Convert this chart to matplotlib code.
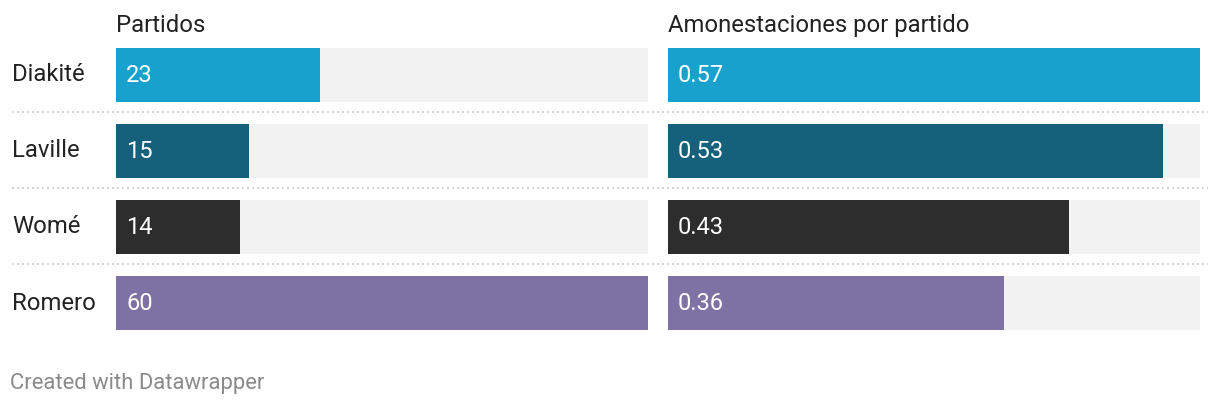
import matplotlib
matplotlib.use("Agg")
import matplotlib.pyplot as plt

players = ["Diakité", "Laville", "Womé", "Romero"]
partidos = [23, 15, 14, 60]
amonestaciones = [0.57, 0.53, 0.43, 0.36]
labels_partidos = ["23", "15", "14", "60"]
labels_amon = ["0.57", "0.53", "0.43", "0.36"]
colors = ["#18a1cd", "#15607a", "#2d2d2d", "#7e71a4"]
titles = ["Partidos", "Amonestaciones por partido"]

plt.rcParams['font.family'] = ['Roboto', 'DejaVu Sans']

W, H = 1220, 406
fig = plt.figure(figsize=(W / 100, H / 100), dpi=100)

def px_axes(x0, y0, x1, y1):
    return fig.add_axes([x0 / W, 1 - y1 / H, (x1 - x0) / W, (y1 - y0) / H])

bar_h = 54 / 76
rows = list(range(len(players)))
top, bottom = 48.5, 330.5

panels = [
    (116, 648, partidos, labels_partidos, max(partidos), titles[0]),
    (668, 1200, amonestaciones, labels_amon, max(amonestaciones), titles[1]),
]

for x0, x1, vals, labs, vmax, title in panels:
    ax = px_axes(x0, top, x1, bottom)
    ax.barh(rows, [vmax] * len(rows), height=bar_h, color="#f2f2f2", zorder=1)
    ax.barh(rows, vals, height=bar_h, color=colors, zorder=2)
    for r, lab in zip(rows, labs):
        ax.text(vmax * 10 / 532, r, lab, color="white", fontsize=17,
                va="center", ha="left", zorder=3)
    ax.set_xlim(0, vmax)
    ax.set_ylim(len(rows) - 1 + bar_h / 2, -bar_h / 2)
    ax.axis("off")
    fig.text(x0 / W, 1 - 25.5 / H, title, fontsize=17.2, color="#222222",
             va="center", ha="left")

# row names
for r, name in enumerate(players):
    y = 75 + 76 * r
    fig.text(12 / W, 1 - y / H, name, fontsize=17.2, color="#222222",
             va="center", ha="left")

# dotted separators
for r in range(len(players) - 1):
    y = 113 + 76 * r
    fig.add_artist(plt.Line2D([12 / W, 1208 / W], [1 - y / H, 1 - y / H],
                              color="#cccccc", lw=1.2, linestyle=(0, (1.2, 1.8))))

fig.text(10 / W, 1 - 384 / H, "Created with Datawrapper", fontsize=15.8,
         color="#8a8a8a", va="center", ha="left")

fig.savefig("out.png", dpi=100, facecolor="white")
